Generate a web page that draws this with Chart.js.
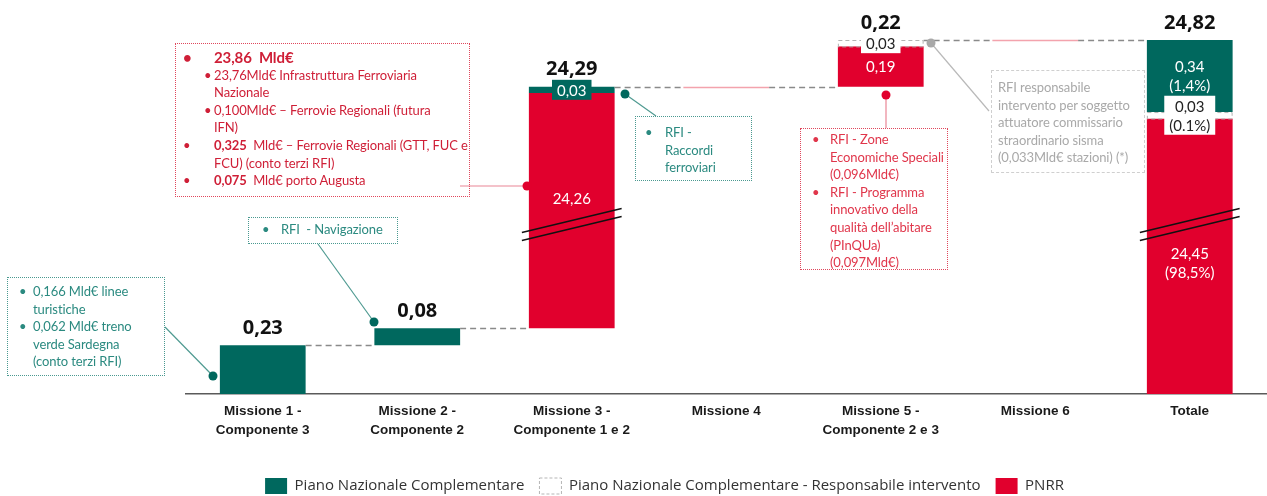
<!DOCTYPE html>
<html>
<head>
<meta charset="utf-8">
<script src="https://cdn.jsdelivr.net/npm/chart.js@4.4.1/dist/chart.umd.min.js"></script>
<style>
  body { margin: 0; background: #fff; }
  #wrap { position: relative; width: 1267px; height: 496px; overflow: hidden; }
  .note { position: absolute; box-sizing: border-box; font-family: Lato, 'Open Sans', sans-serif; font-size: 13px; line-height: 17.6px; white-space: nowrap; letter-spacing: -0.1px; }
  .note.red { border: 1px dotted #e0475c; color: #d9233f; }
  .note.teal { border: 1px dotted #4a9990; color: #2b8a80; }
  .note.grey { border: 1px dashed #cfcfcf; color: #a9a9a9; }
  .li { position: relative; padding-left: var(--pl); }
  .li::before { content: '\2022'; position: absolute; left: var(--bl); }
</style>
</head>
<body>
<div id="wrap">
  <canvas id="c" width="1267" height="496"></canvas>

  <div class="note red" style="left:175px;top:43px;width:295px;height:154px;padding-top:5px;--pl:38px;--bl:7px;color:#cf1f37">
    <div class="li" style="font-weight:bold;font-size:15px">23,86&nbsp; Mld€</div>
    <div class="li" style="--bl:28px">23,76Mld€ Infrastruttura Ferroviaria<br>Nazionale</div>
    <div class="li" style="--bl:28px">0,100Mld€ – Ferrovie Regionali (futura<br>IFN)</div>
    <div class="li"><b>0,325</b>&nbsp; Mld€ – Ferrovie Regionali (GTT, FUC e<br>FCU) (conto terzi RFI)</div>
    <div class="li"><b>0,075</b>&nbsp; Mld€ porto Augusta</div>
  </div>

  <div class="note teal" style="left:248px;top:217px;width:150px;height:27px;padding-top:3px;--pl:32px;--bl:13px">
    <div class="li">RFI&nbsp; - Navigazione</div>
  </div>

  <div class="note teal" style="left:7px;top:277px;width:158px;height:99px;padding-top:5px;--pl:25px;--bl:11px">
    <div class="li">0,166 Mld€ linee<br>turistiche</div>
    <div class="li">0,062 Mld€ treno<br>verde Sardegna<br>(conto terzi RFI)</div>
  </div>

  <div class="note teal" style="left:635px;top:116px;width:117px;height:65px;padding-top:7px;--pl:29px;--bl:9px">
    <div class="li">RFI -<br>Raccordi<br>ferroviari</div>
  </div>

  <div class="note red" style="left:800px;top:128px;width:148px;height:142px;padding-top:2px;--pl:29px;--bl:11px;color:#e0364b">
    <div class="li">RFI - Zone<br>Economiche Speciali<br>(0,096Mld€)</div>
    <div class="li">RFI - Programma<br>innovativo della<br>qualità dell’abitare<br>(PInQUa)<br>(0,097Mld€)</div>
  </div>

  <div class="note grey" style="left:991px;top:70px;width:154px;height:103px;padding-top:8px;padding-left:6px">
    RFI responsabile<br>intervento per soggetto<br>attuatore commissario<br>straordinario sisma<br>(0,033Mld€ stazioni) (*)
  </div>
</div>

<script>
const categories = [
  ['Missione 1 -', 'Componente 3'],
  ['Missione 2 -', 'Componente 2'],
  ['Missione 3 -', 'Componente 1 e 2'],
  ['Missione 4'],
  ['Missione 5 -', 'Componente 2 e 3'],
  ['Missione 6'],
  ['Totale']
];
const seriesNames = [
  'Piano Nazionale Complementare',
  'Piano Nazionale Complementare - Responsabile intervento',
  'PNRR'
];
const pncValues = [0.23, 0.08, 0.03, 0, 0, 0, 0.34];
const pncRespValues = [0, 0, 0, 0, 0.03, 0, 0.03];
const pnrrValues = [0, 0, 24.26, 0, 0.19, 0, 24.45];
// shares of the Totale column, same order as seriesNames
const totalShares = ['(1,4%)', '(0.1%)', '(98,5%)'];

const TEAL = '#00685e';
const RED = '#e1002d';
const colors = [TEAL, '#ffffff', RED];

// axis break: values between these two are cut out
const BREAK_LO = 0.8;
const BREAK_HI = 23.95;

const last = categories.length - 1;
const sums = categories.map((c, i) => pncValues[i] + pncRespValues[i] + pnrrValues[i]);
const bases = [];
let run = 0;
sums.forEach((s, i) => {
  bases.push(i === last ? 0 : run);
  if (i !== last) run += s;
});

function floating(values, below) {
  return values.map((v, i) => v > 0 ? [bases[i] + below[i], bases[i] + below[i] + v] : null);
}
const pnrrBars = floating(pnrrValues, categories.map(() => 0));
const respBars = floating(pncRespValues, pnrrValues);
const pncBars = floating(pncValues, pnrrValues.map((v, i) => v + pncRespValues[i]));

const fmt = v => v.toFixed(2).replace('.', ',');

function squash(v) {
  if (v <= BREAK_LO) return v;
  if (v < BREAK_HI) return BREAK_LO;
  return BREAK_LO + (v - BREAK_HI);
}

class BrokenScale extends Chart.LinearScale {
  getPixelForValue(value) {
    if (value === null || value === undefined || isNaN(value)) return NaN;
    const a = squash(this.min), b = squash(this.max);
    return this.getPixelForDecimal((squash(value) - a) / (b - a));
  }
  getValueForPixel(pixel) {
    const a = squash(this.min), b = squash(this.max);
    const s = a + this.getDecimalForPixel(pixel) * (b - a);
    return s <= BREAK_LO ? s : s - BREAK_LO + BREAK_HI;
  }
}
BrokenScale.id = 'broken';
BrokenScale.defaults = Chart.LinearScale.defaults;
Chart.register(BrokenScale);

const deco = {
  id: 'deco',
  afterDatasetsDraw(chart) {
    const ctx = chart.ctx;
    const xs = chart.scales.x, ys = chart.scales.y;
    const metas = chart.data.datasets.map((d, i) => chart.getDatasetMeta(i));
    const w = metas[0].data[0].width;
    const breakPx = ys.getPixelForValue(BREAK_LO);
    ctx.save();

    // dashed outline for "responsabile intervento"
    metas[1].data.forEach((el, i) => {
      if (!respBars[i]) return;
      const top = Math.min(el.y, el.base), h = Math.abs(el.base - el.y);
      ctx.setLineDash([4, 3]);
      ctx.strokeStyle = '#b3b3b3';
      ctx.lineWidth = 1;
      ctx.strokeRect(el.x - w / 2 + 0.5, top + 0.5, w - 1, h);
    });

    // waterfall connectors
    for (let i = 0; i < last; i++) {
      const py = Math.round(ys.getPixelForValue(bases[i] + sums[i])) + 0.5;
      const x0 = xs.getPixelForValue(i) + w / 2;
      const x1 = xs.getPixelForValue(i + 1) - w / 2;
      ctx.setLineDash([6, 4]);
      ctx.strokeStyle = '#8a8a8a';
      ctx.lineWidth = 1.3;
      ctx.beginPath(); ctx.moveTo(x0, py); ctx.lineTo(x1, py); ctx.stroke();
      if (i + 1 < last && sums[i + 1] === 0) {
        ctx.setLineDash([]);
        ctx.strokeStyle = '#f3a3ad';
        ctx.lineWidth = 1.5;
        ctx.beginPath(); ctx.moveTo(x1, py); ctx.lineTo(x1 + w, py); ctx.stroke();
      }
    }

    // break marks
    ctx.setLineDash([]);
    metas[2].data.forEach((el, i) => {
      const b = pnrrBars[i];
      if (!b || b[0] > BREAK_LO || b[1] < BREAK_HI) return;
      ctx.strokeStyle = '#111';
      ctx.lineWidth = 1.5;
      [-4, 4].forEach(o => {
        ctx.beginPath();
        ctx.moveTo(el.x - w / 2 - 7, breakPx + o + 12);
        ctx.lineTo(el.x + w / 2 + 7, breakPx + o - 12);
        ctx.stroke();
      });
    });

    // totals above columns
    ctx.textAlign = 'center';
    ctx.textBaseline = 'middle';
    ctx.font = 'bold 20px "Open Sans", sans-serif';
    ctx.fillStyle = '#111';
    sums.forEach((s, i) => {
      if (!(s > 0)) return;
      const py = ys.getPixelForValue(bases[i] + s);
      ctx.fillText(fmt(s), xs.getPixelForValue(i), py - 17);
    });

    // labels inside stacked columns
    ctx.font = '15px Lato, "Open Sans", sans-serif';
    categories.forEach((c, i) => {
      const parts = [pncValues[i], pncRespValues[i], pnrrValues[i]];
      if (parts.filter(v => v > 0).length < 2) return;
      metas.forEach((meta, d) => {
        const v = parts[d];
        if (!(v > 0)) return;
        const el = meta.data[i];
        const top = Math.min(el.y, el.base), bot = Math.max(el.y, el.base);
        let cy = (top + bot) / 2;
        if (top < breakPx && bot > breakPx) {
          cy += 6;
          if (Math.abs(cy - breakPx) < 25) cy = breakPx - 26;
        }
        const lines = [fmt(v)];
        if (i === last) lines.push(totalShares[d]);
        const lh = 19;
        if (bot - top < 20) {
          const tw = Math.max(...lines.map(t => ctx.measureText(t).width)) + 10;
          const th = lines.length * lh + 1;
          ctx.fillStyle = colors[d];
          ctx.fillRect(el.x - tw / 2, cy - th / 2, tw, th);
        }
        ctx.fillStyle = d === 1 ? '#222' : '#fff';
        lines.forEach((t, k) => ctx.fillText(t, el.x, cy + (k - (lines.length - 1) / 2) * lh + 1));
      });
    });
    ctx.restore();
  },
  afterDraw(chart) {
    const ctx = chart.ctx;
    const leaders = [
      { color: '#e98595', dot: RED, from: [460, 186], to: [527, 186] },
      { color: '#4f9a91', dot: TEAL, from: [318, 244], to: [374, 322] },
      { color: '#4f9a91', dot: TEAL, from: [165, 327], to: [213, 376] },
      { color: '#4f9a91', dot: TEAL, from: [656, 116], to: [625, 94] },
      { color: '#e98595', dot: RED, from: [886, 128], to: [886, 95] },
      { color: '#b9b9b9', dot: '#a8a8a8', from: [989, 111], to: [931, 43] }
    ];
    ctx.save();
    leaders.forEach(l => {
      ctx.strokeStyle = l.color;
      ctx.lineWidth = 1.2;
      ctx.beginPath(); ctx.moveTo(l.from[0], l.from[1]); ctx.lineTo(l.to[0], l.to[1]); ctx.stroke();
      ctx.fillStyle = l.dot;
      ctx.beginPath(); ctx.arc(l.to[0], l.to[1], 4.5, 0, Math.PI * 2); ctx.fill();
    });
    ctx.restore();
  }
};

new Chart(document.getElementById('c'), {
  type: 'bar',
  data: {
    labels: categories,
    datasets: [
      { label: seriesNames[0], data: pncBars, backgroundColor: TEAL },
      { label: seriesNames[1], data: respBars, backgroundColor: '#ffffff' },
      { label: seriesNames[2], data: pnrrBars, backgroundColor: RED }
    ]
  },
  options: {
    responsive: false,
    animation: false,
    layout: { padding: { left: 58, right: -4, top: 40, bottom: -8 } },
    datasets: { bar: { grouped: false, barPercentage: 0.555, categoryPercentage: 1, borderWidth: 0 } },
    scales: {
      x: {
        grid: { display: false, drawTicks: false },
        border: { display: true, color: '#5a5a5a', width: 1.5 },
        ticks: {
          color: '#1a1a1a', padding: 7, maxRotation: 0, autoSkip: false,
          font: { family: "'Liberation Sans', Arial, sans-serif", size: 13.5, weight: 'bold', lineHeight: 1.45 }
        },
        afterFit: s => { s.height = 69; }
      },
      y: {
        type: 'broken',
        min: 0,
        max: sums[last],
        grid: { display: false },
        border: { display: false },
        ticks: { display: false },
        afterFit: s => { s.width = 127.5; }
      }
    },
    plugins: {
      legend: {
        position: 'bottom',
        labels: {
          boxWidth: 22, boxHeight: 16, padding: 15, color: '#333',
          font: { family: "'Open Sans', sans-serif", size: 15 },
          generateLabels(chart) {
            const items = Chart.defaults.plugins.legend.labels.generateLabels(chart);
            items.forEach((it, i) => {
              it.lineWidth = i === 1 ? 1 : 0;
              it.strokeStyle = '#b5b5b5';
              it.lineDash = i === 1 ? [3, 2] : [];
            });
            return items;
          }
        }
      },
      tooltip: { enabled: false }
    }
  },
  plugins: [deco]
});
</script>
</body>
</html>
